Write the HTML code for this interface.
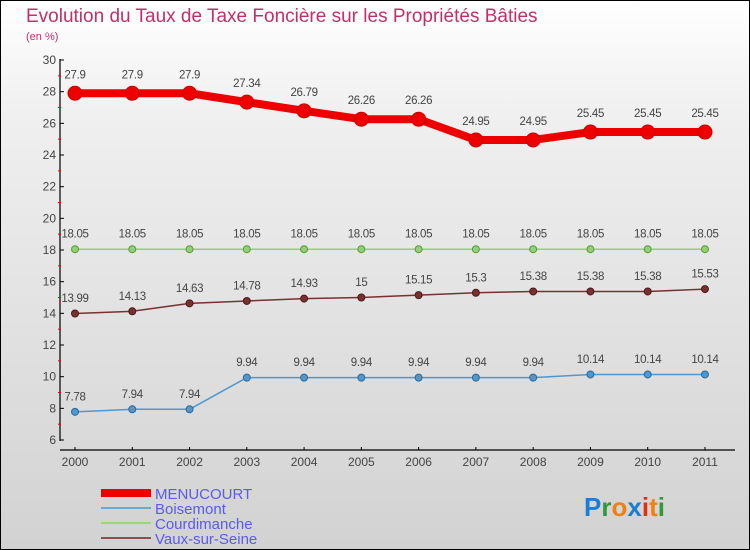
<!DOCTYPE html>
<html><head><meta charset="utf-8"><style>
body{margin:0}
#c{width:750px;height:550px;position:relative;box-sizing:border-box;border:1px solid #000;background:linear-gradient(#fff,#f0f0f0 20%,#d2d2d2);font-family:"Liberation Sans",sans-serif;overflow:hidden}
</style></head><body>
<div id="c">
<svg id="s" width="750" height="550" style="position:absolute;left:-1px;top:-1px">
<text x="26" y="22" font-size="19" fill="#c0306a">Evolution du Taux de Taxe Foncière sur les Propriétés Bâties</text>
<text x="26" y="40" font-size="11" fill="#c0306a">(en %)</text>
<g id="axes"></g><g id="series"></g><g id="legend"></g>
<text x="584" y="516" font-size="26" font-weight="bold"><tspan fill="#1a7fd4">P</tspan><tspan fill="#2e9a3a">r</tspan><tspan fill="#f08010">o</tspan><tspan fill="#1a7fd4">x</tspan><tspan fill="#e03010">i</tspan><tspan fill="#f08010">t</tspan><tspan fill="#2e9a3a">i</tspan></text>
</svg>
</div>
<script>
const years=[2000,2001,2002,2003,2004,2005,2006,2007,2008,2009,2010,2011];
const menucourt=[27.9,27.9,27.9,27.34,26.79,26.26,26.26,24.95,24.95,25.45,25.45,25.45];
const boisemont=[7.78,7.94,7.94,9.94,9.94,9.94,9.94,9.94,9.94,10.14,10.14,10.14];
const courdimanche=[18.05,18.05,18.05,18.05,18.05,18.05,18.05,18.05,18.05,18.05,18.05,18.05];
const vaux=[13.99,14.13,14.63,14.78,14.93,15,15.15,15.3,15.38,15.38,15.38,15.53];
const yTicks=[6,8,10,12,14,16,18,20,22,24,26,28,30];
const seriesNames=["MENUCOURT","Boisemont","Courdimanche","Vaux-sur-Seine"];
const NS="http://www.w3.org/2000/svg";
const X=i=>75+i*57.27, Y=v=>440-(v-6)*380/24;
function mk(t,a,p){const e=document.createElementNS(NS,t);for(const k in a)e.setAttribute(k,a[k]);p.appendChild(e);return e;}
const ax=document.getElementById('axes');
let l=mk('line',{x1:60,y1:59,x2:60,y2:441,stroke:'#000','stroke-width':1.2},ax);


l=mk('line',{x1:60,y1:450,x2:735,y2:450,stroke:'#000','stroke-width':1.2},ax);


yTicks.forEach((v,i)=>{
 mk('line',{x1:60,y1:Y(v),x2:64,y2:Y(v),stroke:'#000'},ax);
 if(i<yTicks.length-1)mk('line',{x1:58,y1:Y(v+1),x2:61,y2:Y(v+1),stroke:'#e00'},ax);
 const t=mk('text',{x:56,y:Y(v)+4,'font-size':12,'text-anchor':'end',fill:'#444'},ax);t.textContent=v;
 
 
});
years.forEach((y,i)=>{
 mk('line',{x1:X(i),y1:447,x2:X(i),y2:450,stroke:'#000'},ax);
 const t=mk('text',{x:X(i),y:466,'font-size':12,'text-anchor':'middle',fill:'#444'},ax);t.textContent=y;
 
 
});
const sg=document.getElementById('series');
function draw(vals,color,w,r,name,dark){
 const g=mk('g',{},sg);
 
 
 mk('polyline',{points:vals.map((v,i)=>X(i)+','+Y(v)).join(' '),fill:'none',stroke:color,'stroke-width':w,'stroke-linejoin':'round'},g);
 vals.forEach((v,i)=>{
  const c=mk('circle',{cx:X(i),cy:Y(v),r:r,fill:color,stroke:dark,'stroke-width':1},g);
  
  
  const t=mk('text',{x:X(i),y:Y(v)-(r+8),'font-size':11.5,'text-anchor':'middle',fill:'#444','letter-spacing':'-0.3'},g);t.textContent=v;
  
  
 });
}
draw(courdimanche,'#8fd36a',1.5,3.5,'courdimanche','#5a9a3a');
draw(vaux,'#7a3030',1.5,3.5,'vaux-sur-seine','#4a1a1a');
draw(boisemont,'#4f97d0',1.5,3.5,'boisemont','#2a6a9a');
draw(menucourt,'#ee0000',8,7,'menucourt','#cc0000');
const lg=document.getElementById('legend');
const lc=['#ee0000','#6aa8d8','#98d878','#8a5050'],lw=[8,2,2,2];
seriesNames.forEach((n,i)=>{
 const y=493+i*15;
 const ln=mk('line',{x1:101,y1:y,x2:151,y2:y,stroke:lc[i],'stroke-width':lw[i]},lg);
 
 
 const t=mk('text',{x:155,y:y+6,'font-size':15,fill:'#5a5aee'},lg);t.textContent=n;
 
 
});
</script>
</body></html>
